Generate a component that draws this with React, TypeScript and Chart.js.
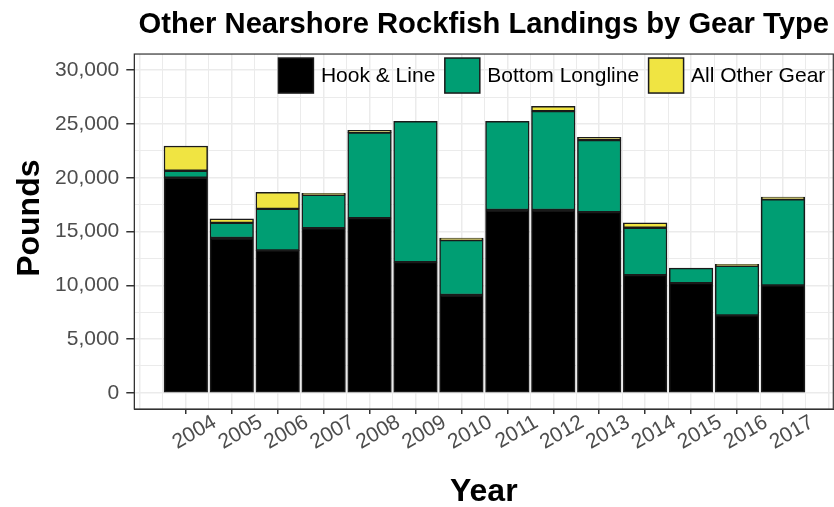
import React, { useEffect, useRef } from 'react';
import { Chart, registerables } from 'chart.js';

Chart.register(...registerables);

const FONT = '"Liberation Sans", Arial, Helvetica, sans-serif';

// ---- data ----
const years = [2004, 2005, 2006, 2007, 2008, 2009, 2010, 2011, 2012, 2013, 2014, 2015, 2016, 2017];
const hookLine = [20000, 14400, 13250, 15300, 16250, 12150, 9100, 17000, 17000, 16800, 10950, 10200, 7200, 10000];
const bottomLongline = [650, 1400, 3850, 3100, 7950, 13100, 5100, 8250, 9200, 6700, 4400, 1400, 4600, 8000];
const allOtherGear = [2300, 380, 1550, 150, 200, 0, 200, 0, 430, 250, 450, 0, 150, 200];

const seriesLabels = ['Hook & Line', 'Bottom Longline', 'All Other Gear'];
const seriesColors = ['#000000', '#009E73', '#F0E442'];

const yTickValues = [0, 2500, 5000, 7500, 10000, 12500, 15000, 17500, 20000, 22500, 25000, 27500, 30000];
const xGridValues = [
  2003, 2003.5, 2004, 2004.5, 2005, 2005.5, 2006, 2006.5, 2007, 2007.5, 2008, 2008.5, 2009, 2009.5,
  2010, 2010.5, 2011, 2011.5, 2012, 2012.5, 2013, 2013.5, 2014, 2014.5, 2015, 2015.5, 2016, 2016.5,
  2017, 2017.5, 2018,
];

const titleText = 'Other Nearshore Rockfish Landings by Gear Type';

const panelPlugin = {
  id: 'panelDeco',
  beforeDraw(chart: any) {
    const { ctx } = chart;
    ctx.save();
    ctx.fillStyle = '#ffffff';
    ctx.fillRect(0, 0, chart.width, chart.height);
    ctx.restore();
  },
  afterDatasetsDraw(chart: any) {
    const { ctx, chartArea } = chart;
    ctx.save();
    // panel border
    ctx.strokeStyle = '#333333';
    ctx.lineWidth = 1.2;
    ctx.strokeRect(chartArea.left, chartArea.top, chartArea.right - chartArea.left, chartArea.bottom - chartArea.top);

    // legend inside top-right
    ctx.font = `21px ${FONT}`;
    const box = 35;
    const gapText = 7.5;
    const gapItem = 9.5;
    const widths = seriesLabels.map((l) => ctx.measureText(l).width);
    let total = 0;
    widths.forEach((w, i) => {
      total += box + gapText + w + (i < widths.length - 1 ? gapItem : 0);
    });
    let x = chartArea.right - 8 - total;
    const y = chartArea.top + 4;
    seriesLabels.forEach((label, i) => {
      ctx.fillStyle = seriesColors[i];
      ctx.fillRect(x, y, box, box);
      ctx.strokeStyle = '#1a1a1a';
      ctx.lineWidth = 1.5;
      ctx.strokeRect(x, y, box, box);
      ctx.fillStyle = '#000000';
      ctx.textBaseline = 'middle';
      ctx.textAlign = 'left';
      ctx.fillText(label, x + box + gapText, y + box / 2 + 1);
      x += box + gapText + widths[i] + gapItem;
    });
    ctx.restore();
  },
};

export default function App() {
  const canvasRef = useRef<HTMLCanvasElement | null>(null);

  useEffect(() => {
    if (!canvasRef.current) return;
    const mk = (vals: number[]) => years.map((yr, i) => ({ x: yr, y: vals[i] }));
    const dsCommon = {
      borderColor: '#1a1a1a',
      borderWidth: 1.5,
      borderSkipped: false,
      barThickness: 'flex' as const,
      categoryPercentage: 1,
      barPercentage: 0.95,
    };
    const chart = new Chart(canvasRef.current, {
      type: 'bar',
      data: {
        datasets: [
          { label: seriesLabels[0], data: mk(hookLine), backgroundColor: seriesColors[0], ...dsCommon },
          { label: seriesLabels[1], data: mk(bottomLongline), backgroundColor: seriesColors[1], ...dsCommon },
          { label: seriesLabels[2], data: mk(allOtherGear), backgroundColor: seriesColors[2], ...dsCommon },
        ],
      },
      plugins: [panelPlugin],
      options: {
        responsive: false,
        animation: false,
        devicePixelRatio: 1,
        layout: { padding: { left: 0, right: 0.7, top: 0, bottom: 0 } },
        plugins: {
          legend: { display: false },
          tooltip: { enabled: false },
          title: {
            display: true,
            text: titleText,
            fullSize: false,
            align: 'center',
            color: '#000000',
            font: { family: FONT, size: 29.2, weight: 'bold' },
            padding: { top: 7, bottom: 12 },
          },
        },
        scales: {
          x: {
            type: 'linear',
            stacked: true,
            offset: false,
            min: 2002.879,
            max: 2018.095,
            afterBuildTicks: (scale: any) => {
              scale.ticks = xGridValues.map((v) => ({ value: v }));
            },
            afterFit: (scale: any) => {
              scale.height = 98;
              scale.paddingLeft = 0;
              scale.paddingRight = 0;
            },
            ticks: {
              autoSkip: false,
              minRotation: 30,
              maxRotation: 30,
              padding: -4,
              labelOffset: 29,
              color: '#4D4D4D',
              font: { family: FONT, size: 21 },
              callback: (v: any) => (years.includes(Number(v)) ? String(v) : ''),
            },
            grid: {
              offset: false,
              color: '#EBEBEB',
              lineWidth: (ctx: any) => (ctx.tick && Number.isInteger(ctx.tick.value) ? 1.5 : 1),
              tickColor: (ctx: any) => (ctx.tick && years.includes(ctx.tick.value) ? '#333333' : 'rgba(0,0,0,0)'),
              tickLength: 5,
              drawTicks: true,
            },
            border: { display: true, color: '#333333', width: 1 },
            title: {
              display: true,
              text: 'Year',
              color: '#000000',
              font: { family: FONT, size: 32, weight: 'bold', lineHeight: 0.9 },
              padding: { top: 0, bottom: 0 },
            },
          },
          y: {
            type: 'linear',
            stacked: true,
            min: -1500,
            max: 31500,
            afterBuildTicks: (scale: any) => {
              scale.ticks = yTickValues.map((v) => ({ value: v }));
            },
            afterFit: (scale: any) => {
              scale.width = 134.3;
              scale.paddingTop = 0;
              scale.paddingBottom = 0;
            },
            ticks: {
              padding: 7,
              color: '#4D4D4D',
              font: { family: FONT, size: 21 },
              callback: (v: any) => (Number(v) % 5000 === 0 ? Number(v).toLocaleString('en-US') : ''),
            },
            grid: {
              color: '#EBEBEB',
              lineWidth: (ctx: any) => (ctx.tick && Number(ctx.tick.value) % 5000 === 0 ? 1.5 : 1),
              tickColor: (ctx: any) => (ctx.tick && Number(ctx.tick.value) % 5000 === 0 ? '#333333' : 'rgba(0,0,0,0)'),
              tickLength: 8,
              drawTicks: true,
            },
            border: { display: true, color: '#333333', width: 1 },
            title: {
              display: true,
              text: '   Pounds',
              color: '#000000',
              font: { family: FONT, size: 32, weight: 'bold' },
              padding: { top: 11, bottom: 0 },
            },
          },
        },
      },
    } as any);
    return () => chart.destroy();
  }, []);

  return (
    <div style={{ position: 'fixed', left: 0, top: 0, width: 834, height: 507, background: '#ffffff' }}>
      <canvas ref={canvasRef} width={834} height={507} style={{ display: 'block', width: 834, height: 507 }} />
    </div>
  );
}
